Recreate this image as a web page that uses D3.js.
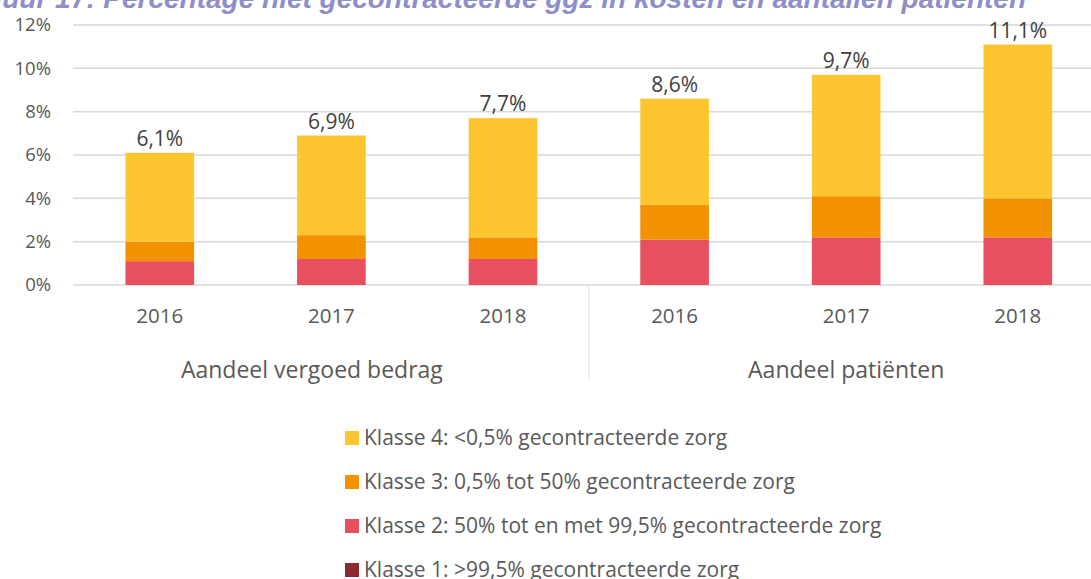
<!DOCTYPE html>
<html>
<head>
<meta charset="utf-8">
<script src="https://cdn.jsdelivr.net/npm/d3@7"></script>
<style>
  body { margin: 0; background: #fff; overflow: hidden; }
  text { font-family: "Open Sans", "Noto Sans", sans-serif; }
</style>
</head>
<body>
<script>
const width = 1091
const height = 579

/* Data */
const years = ["2016", "2017", "2018", "2016", "2017", "2018"]
const groups = ["Aandeel vergoed bedrag", "Aandeel patiënten"]
const klasse1 = [0, 0, 0, 0, 0, 0]
const klasse2 = [1.1, 1.2, 1.2, 2.1, 2.2, 2.2]
const klasse3 = [0.9, 1.1, 1.0, 1.6, 1.9, 1.8]
const klasse4 = [4.1, 4.6, 5.5, 4.9, 5.6, 7.1]
const totals = ["6,1%", "6,9%", "7,7%", "8,6%", "9,7%", "11,1%"]
const yTicks = [0, 2, 4, 6, 8, 10, 12]
const seriesNames = [
  "Klasse 1: >99,5% gecontracteerde zorg",
  "Klasse 2: 50% tot en met 99,5% gecontracteerde zorg",
  "Klasse 3: 0,5% tot 50% gecontracteerde zorg",
  "Klasse 4: <0,5% gecontracteerde zorg"
]
const colors = ["#8b2b2f", "#e8505f", "#f39200", "#fdc530"]

/* Build rows for stacking */
const rows = years.map((y, i) => ({
  i: i, k1: klasse1[i], k2: klasse2[i], k3: klasse3[i], k4: klasse4[i]
}))
const stack = d3.stack().keys(["k1", "k2", "k3", "k4"])(rows)

const svg = d3.select("body").append("svg")
  .attr("width", width)
  .attr("height", height)

/* Title, cut off at the top like the source */
svg.append("text")
  .attr("x", 1026)
  .attr("y", 8)
  .attr("text-anchor", "end")
  .style("font-family", "'Liberation Sans', Arial, sans-serif")
  .style("font-size", "28px")
  .style("font-weight", "bold")
  .style("font-style", "italic")
  .style("fill", "#8e8ec9")
  .text("Figuur 17: Percentage niet gecontracteerde ggz in kosten en aantallen patiënten")

const x = d3.scaleBand()
  .domain(d3.range(years.length))
  .range([74, 74 + 171.6 * 6])
  .paddingInner(0.6)
  .paddingOuter(0.3)

const y = d3.scaleLinear()
  .domain([0, 12])
  .range([285, 25])

/* Gridlines */
svg.append("g")
  .selectAll("line")
  .data(yTicks)
  .join("line")
  .attr("x1", 73)
  .attr("x2", width)
  .attr("y1", d => y(d))
  .attr("y2", d => y(d))
  .attr("stroke", "#d9d9d9")
  .attr("stroke-width", 1.5)

/* Y tick labels */
svg.append("g")
  .selectAll("text")
  .data(yTicks)
  .join("text")
  .attr("x", 51)
  .attr("y", d => y(d))
  .attr("dy", "0.35em")
  .attr("text-anchor", "end")
  .style("font-size", "18.5px")
  .style("fill", "#595959")
  .text(d => d + "%")

/* Stacked bars */
svg.append("g")
  .selectAll("g")
  .data(stack)
  .join("g")
  .attr("fill", (d, i) => colors[i])
  .selectAll("rect")
  .data(d => d)
  .join("rect")
  .attr("x", (d, i) => x(i))
  .attr("width", x.bandwidth())
  .attr("y", d => y(d[1]))
  .attr("height", d => y(d[0]) - y(d[1]))

/* Value labels */
svg.append("g")
  .selectAll("text")
  .data(totals)
  .join("text")
  .attr("x", (d, i) => x(i) + x.bandwidth() / 2)
  .attr("y", (d, i) => y(klasse1[i] + klasse2[i] + klasse3[i] + klasse4[i]) - 7)
  .attr("text-anchor", "middle")
  .style("font-size", "21px")
  .style("fill", "#404040")
  .text(d => d)

/* Category labels */
svg.append("g")
  .selectAll("text")
  .data(years)
  .join("text")
  .attr("x", (d, i) => x(i) + x.bandwidth() / 2)
  .attr("y", 323)
  .attr("text-anchor", "middle")
  .style("font-size", "20.5px")
  .style("fill", "#595959")
  .text(d => d)

/* Group divider and group labels (first span starts at the axis label area) */
const step = x.step()
const divider = 74 + step * 3
const groupSpans = [[35, divider], [divider, 74 + step * 6]]
svg.append("line")
  .attr("x1", divider)
  .attr("x2", divider)
  .attr("y1", 285)
  .attr("y2", 380)
  .attr("stroke", "#e3e3e3")
  .attr("stroke-width", 1)

svg.append("g")
  .selectAll("text")
  .data(groups)
  .join("text")
  .attr("x", (d, i) => (groupSpans[i][0] + groupSpans[i][1]) / 2)
  .attr("y", 378)
  .attr("text-anchor", "middle")
  .style("font-size", "23px")
  .style("fill", "#595959")
  .text(d => d)

/* Legend (reverse order: Klasse 4 on top) */
const legendOrder = [3, 2, 1, 0]
const legend = svg.append("g")
  .selectAll("g")
  .data(legendOrder)
  .join("g")
  .attr("transform", (d, i) => `translate(345, ${438 + i * 44})`)

legend.append("rect")
  .attr("x", 0)
  .attr("y", -7)
  .attr("width", 14)
  .attr("height", 14)
  .attr("fill", d => colors[d])

legend.append("text")
  .attr("x", 19)
  .attr("y", 0)
  .attr("dy", "0.35em")
  .style("font-size", "21px")
  .style("fill", "#595959")
  .text(d => seriesNames[d])
</script>
</body>
</html>
